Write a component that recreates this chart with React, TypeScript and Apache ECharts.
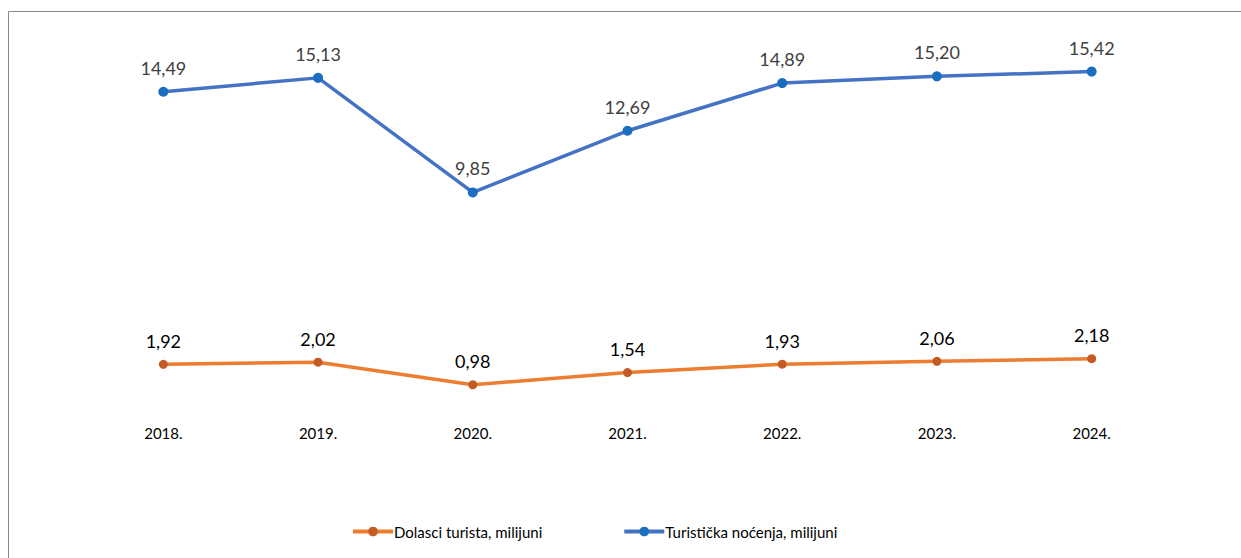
import React, { useEffect, useRef } from "react";
import * as echarts from "echarts";

const years = ["2018.", "2019.", "2020.", "2021.", "2022.", "2023.", "2024."];
const dolasci = [1.92, 2.02, 0.98, 1.54, 1.93, 2.06, 2.18];
const nocenja = [14.49, 15.13, 9.85, 12.69, 14.89, 15.2, 15.42];
const seriesNames = ["Dolasci turista, milijuni", "Turistička noćenja, milijuni"];

const fmt = (v: number) => v.toFixed(2).replace(".", ",");

export default function App() {
  const ref = useRef<HTMLDivElement>(null);
  useEffect(() => {
    if (!ref.current) return;
    const chart = echarts.init(ref.current, null, { renderer: "svg" });
    const font = "Lato, 'Liberation Sans', sans-serif";
    chart.setOption({
      animation: false,
      backgroundColor: "#ffffff",
      textStyle: { fontFamily: font },
      grid: { left: 86, width: 1083, top: 59, height: 347 },
      xAxis: {
        type: "category",
        data: years,
        boundaryGap: true,
        axisLine: { show: false },
        axisTick: { show: false },
        axisLabel: { color: "#000000", fontSize: 15, margin: 19, fontFamily: font },
      },
      yAxis: {
        type: "value",
        min: 0,
        max: 16,
        show: false,
        splitLine: { show: false },
      },
      legend: {
        bottom: 14,
        left: 346,
        itemWidth: 40,
        itemHeight: 12,
        itemGap: 80,
        lineStyle: { width: 4 },
        textStyle: { color: "#000000", fontSize: 15, fontFamily: font, padding: [0, 0, 0, -4] },
        data: seriesNames,
      },
      graphic: [
        { type: "line", shape: { x1: 8.5, y1: 11.5, x2: 1241, y2: 11.5 }, style: { stroke: "#888888", lineWidth: 1 } },
        { type: "line", shape: { x1: 8.5, y1: 11.5, x2: 8.5, y2: 558 }, style: { stroke: "#888888", lineWidth: 1 } },
      ],
      series: [
        {
          name: seriesNames[0],
          type: "line",
          data: dolasci,
          symbol: "circle",
          symbolSize: 9,
          lineStyle: { color: "#ED7D31", width: 3.5 },
          itemStyle: { color: "#C55A24" },
          label: {
            show: true,
            position: "top",
            distance: 10,
            color: "#000000",
            fontSize: 18,
            fontFamily: font,
            formatter: (p: any) => fmt(p.value),
          },
        },
        {
          name: seriesNames[1],
          type: "line",
          data: nocenja,
          symbol: "circle",
          symbolSize: 10,
          lineStyle: { color: "#4472C4", width: 3.5 },
          itemStyle: { color: "#1A6DBF" },
          label: {
            show: true,
            position: "top",
            distance: 10,
            color: "#404040",
            fontSize: 18,
            fontFamily: font,
            formatter: (p: any) => fmt(p.value),
          },
        },
      ],
    });
    return () => chart.dispose();
  }, []);
  return (
    <div
      ref={ref}
      style={{ position: "fixed", left: 0, top: 0, width: 1241, height: 558 }}
    />
  );
}
